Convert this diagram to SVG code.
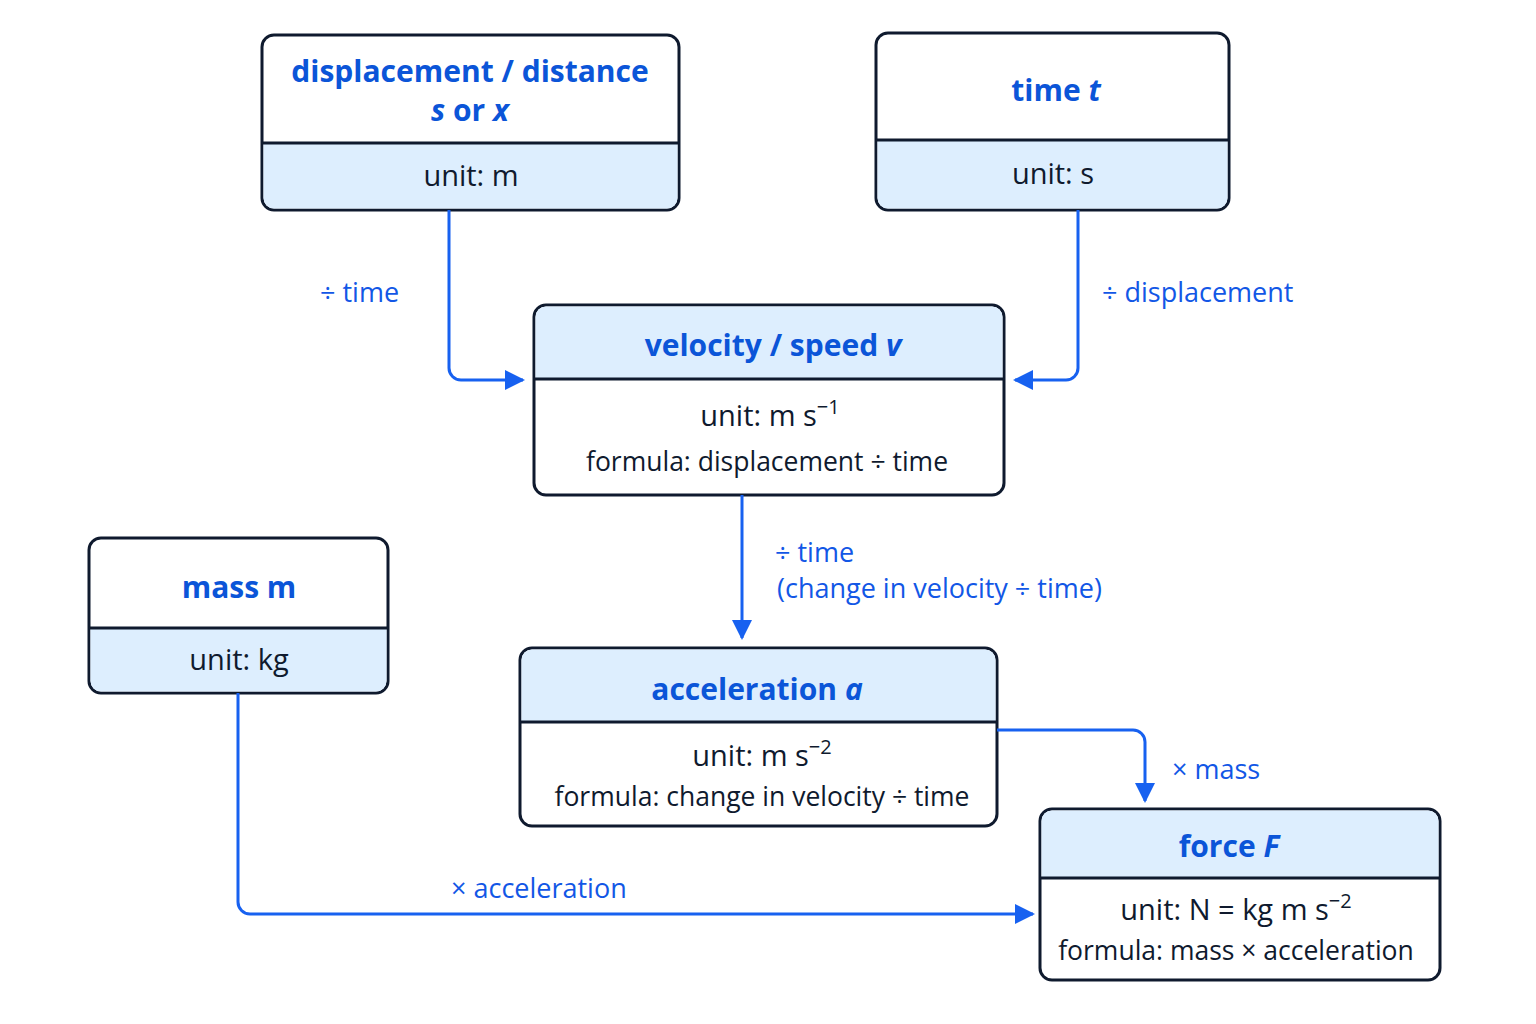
<svg xmlns="http://www.w3.org/2000/svg" width="1536" height="1024" viewBox="0 0 1536 1024">
<defs>
<style>
.box{fill:#fff;stroke:#0f1a2e;stroke-width:3}
.fill{fill:#ddeefe}
.div{stroke:#0f1a2e;stroke-width:3}
.t{font-family:"Open Sans","Liberation Sans",sans-serif;font-weight:bold;font-size:30px;fill:#0b55d8;text-anchor:middle}
.u{font-family:"Open Sans","Liberation Sans",sans-serif;font-size:29px;fill:#0f1a2e;text-anchor:middle}
.f{font-family:"Open Sans","Liberation Sans",sans-serif;font-size:26.5px;fill:#0f1a2e;text-anchor:middle}
.l{font-family:"Open Sans","Liberation Sans",sans-serif;font-size:27px;fill:#1257e6}
.c{fill:none;stroke:#1761f0;stroke-width:3}
</style>
<marker id="ah" viewBox="0 0 10 10" refX="9" refY="5" markerWidth="20" markerHeight="20" markerUnits="userSpaceOnUse" orient="auto"><path d="M0,0L10,5L0,10z" fill="#1761f0"/></marker>
</defs>
<rect width="1536" height="1024" fill="#fff"/>
<g id="displacement">
<rect class="box" x="262" y="35" width="417" height="175" rx="12"/>
<path class="fill" d="M263.5,143H677.5V198a10.5,10.5 0 0 1 -10.5,10.5H274a10.5,10.5 0 0 1 -10.5,-10.5z"/>
<line class="div" x1="262" y1="143" x2="679" y2="143"/>
<text class="t" x="470" y="82" font-size="29">displacement / distance</text>
<text class="t" x="470" y="121" font-size="29"><tspan font-style="italic">s</tspan> or <tspan font-style="italic">x</tspan></text>
<text class="u" x="471" y="186">unit: m</text>
</g>
<g id="time">
<rect class="box" x="876" y="33" width="353" height="177" rx="12"/>
<path class="fill" d="M877.5,140H1227.5V198a10.5,10.5 0 0 1 -10.5,10.5H888a10.5,10.5 0 0 1 -10.5,-10.5z"/>
<line class="div" x1="876" y1="140" x2="1229" y2="140"/>
<text class="t" x="1056" y="101">time <tspan font-style="italic">t</tspan></text>
<text class="u" x="1053" y="184">unit: s</text>
</g>
<g id="velocity">
<rect class="box" x="534" y="305" width="470" height="190" rx="12"/>
<path class="fill" d="M535.5,379V317a10.5,10.5 0 0 1 10.5,-10.5H992a10.5,10.5 0 0 1 10.5,10.5V379z"/>
<line class="div" x1="534" y1="379" x2="1004" y2="379"/>
<text class="t" x="773" y="356">velocity / speed <tspan font-style="italic">v</tspan></text>
<text class="u" x="770" y="426">unit: m s<tspan font-size="20" dy="-12">−1</tspan></text>
<text class="f" x="767" y="471">formula: displacement ÷ time</text>
</g>
<g id="mass">
<rect class="box" x="89" y="538" width="299" height="155" rx="12"/>
<path class="fill" d="M90.5,628H386.5V681a10.5,10.5 0 0 1 -10.5,10.5H101a10.5,10.5 0 0 1 -10.5,-10.5z"/>
<line class="div" x1="89" y1="628" x2="388" y2="628"/>
<text class="t" x="239" y="598">mass m</text>
<text class="u" x="239" y="670">unit: kg</text>
</g>
<g id="acceleration">
<rect class="box" x="520" y="648" width="477" height="178" rx="12"/>
<path class="fill" d="M521.5,722V660a10.5,10.5 0 0 1 10.5,-10.5H985a10.5,10.5 0 0 1 10.5,10.5V722z"/>
<line class="div" x1="520" y1="722" x2="997" y2="722"/>
<text class="t" x="757" y="700">acceleration <tspan font-style="italic">a</tspan></text>
<text class="u" x="762" y="766">unit: m s<tspan font-size="20" dy="-12">−2</tspan></text>
<text class="f" x="762" y="806">formula: change in velocity ÷ time</text>
</g>
<g id="force">
<rect class="box" x="1040" y="809" width="400" height="171" rx="12"/>
<path class="fill" d="M1041.5,878V821a10.5,10.5 0 0 1 10.5,-10.5H1428a10.5,10.5 0 0 1 10.5,10.5V878z"/>
<line class="div" x1="1040" y1="878" x2="1440" y2="878"/>
<text class="t" x="1229" y="857">force <tspan font-style="italic">F</tspan></text>
<text class="u" x="1236" y="920">unit: N  =  kg m s<tspan font-size="20" dy="-12">−2</tspan></text>
<text class="f" x="1236" y="960">formula: mass × acceleration</text>
</g>
<g id="connectors">
<path class="c" marker-end="url(#ah)" d="M449,210V368a12,12 0 0 0 12,12H523"/>
<path class="c" marker-end="url(#ah)" d="M1078,210V368a12,12 0 0 1 -12,12H1015"/>
<path class="c" marker-end="url(#ah)" d="M742,495V638"/>
<path class="c" marker-end="url(#ah)" d="M997,730H1133a12,12 0 0 1 12,12V801"/>
<path class="c" marker-end="url(#ah)" d="M238,693V902a12,12 0 0 0 12,12H1033"/>
<text class="l" x="320" y="302">÷ time</text>
<text class="l" x="1102" y="302">÷ displacement</text>
<text class="l" x="775" y="562">÷ time</text>
<text class="l" x="777" y="598" font-size="24">(change in velocity ÷ time)</text>
<text class="l" x="1172" y="779">× mass</text>
<text class="l" x="451" y="898">× acceleration</text>
</g>
</svg>
